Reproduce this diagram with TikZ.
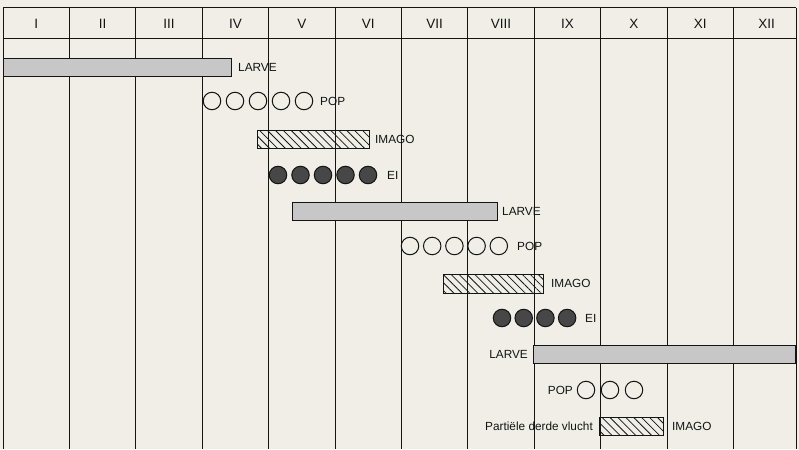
\documentclass[tikz,border=0pt]{standalone}
\usepackage{fontspec}
\setmainfont{Liberation Sans}
\usetikzlibrary{patterns.meta}
\definecolor{paper}{RGB}{240,238,231}
\definecolor{ink}{RGB}{20,20,20}
\begin{document}
\begin{tikzpicture}[x=1pt,y=-1pt,
  grid/.style={draw=ink,line width=1pt},
  head/.style={font=\fontsize{13.5}{15}\selectfont,text=ink,inner sep=0},
  lbl/.style={font=\fontsize{11.8}{13}\selectfont,text=ink,inner sep=0},
  larvebar/.style={draw=ink,line width=1pt,fill=black!22},
  imagobar/.style={draw=ink,line width=1pt,pattern={Lines[angle=-45,distance=5.6pt,line width=0.8pt]},pattern color=ink},
  pop/.style={circle,draw=ink,line width=1pt,minimum size=17.5pt,inner sep=0},
  ei/.style={circle,draw=ink,line width=1pt,fill=black!72,minimum size=17.5pt,inner sep=0}]
\fill[paper] (0,0) rectangle (799,449);
\useasboundingbox (0,0) rectangle (799,449);
% header
\draw[grid] (3,8) -- (796,8);
\draw[grid] (3,39) -- (796,39);
\foreach \k in {0,...,11} {
  \draw[grid] ({3+66.4*\k},8) -- ({3+66.4*\k},449);
}
\draw[grid] (796,8) -- (796,449);
\foreach \r [count=\k from 0] in {I,II,III,IV,V,VI,VII,VIII,IX,X,XI,XII} {
  \node[head] (h\k) at ({3+66.4*\k+33.2},23.5) {\r};
}
% generation 1
\node[larvebar,minimum width=228pt,minimum height=18pt,inner sep=0,anchor=north west] (larve1) at (3,58) {};
\node[lbl,anchor=west] (larve1l) at (238,67) {LARVE};
\foreach \i in {0,...,4} { \node[pop] (pop1\i) at ({212+23*\i},101) {}; }
\node[lbl,anchor=west] (pop1l) at (320,101) {POP};
\node[imagobar,minimum width=112pt,minimum height=18pt,inner sep=0,anchor=north west] (imago1) at (257,130) {};
\node[lbl,anchor=west] (imago1l) at (375,139) {IMAGO};
\foreach \i in {0,...,4} { \node[ei] (ei1\i) at ({278+22.5*\i},175) {}; }
\node[lbl,anchor=west] (ei1l) at (387,175) {EI};
% generation 2
\node[larvebar,minimum width=205pt,minimum height=18pt,inner sep=0,anchor=north west] (larve2) at (292,202) {};
\node[lbl,anchor=west] (larve2l) at (502,211) {LARVE};
\foreach \i in {0,...,4} { \node[pop] (pop2\i) at ({410+22.2*\i},246) {}; }
\node[lbl,anchor=west] (pop2l) at (517,246) {POP};
\node[imagobar,minimum width=100pt,minimum height=19pt,inner sep=0,anchor=north west] (imago2) at (443,274) {};
\node[lbl,anchor=west] (imago2l) at (551,283.5) {IMAGO};
\foreach \i in {0,...,3} { \node[ei] (ei2\i) at ({502+21.7*\i},318) {}; }
\node[lbl,anchor=west] (ei2l) at (585,318) {EI};
% generation 3
\node[larvebar,minimum width=262pt,minimum height=18pt,inner sep=0,anchor=north west] (larve3) at (533,345) {};
\node[lbl,anchor=east] (larve3l) at (528,354) {LARVE};
\foreach \i in {0,...,2} { \node[pop] (pop3\i) at ({586+24*\i},390) {}; }
\node[lbl,anchor=east] (pop3l) at (573,390) {POP};
\node[imagobar,minimum width=64pt,minimum height=18pt,inner sep=0,anchor=north west] (imago3) at (599,417) {};
\node[lbl,anchor=east] (partl) at (593,426) {Partiële derde vlucht};
\node[lbl,anchor=west] (imago3l) at (672,426) {IMAGO};
\end{tikzpicture}
\end{document}
